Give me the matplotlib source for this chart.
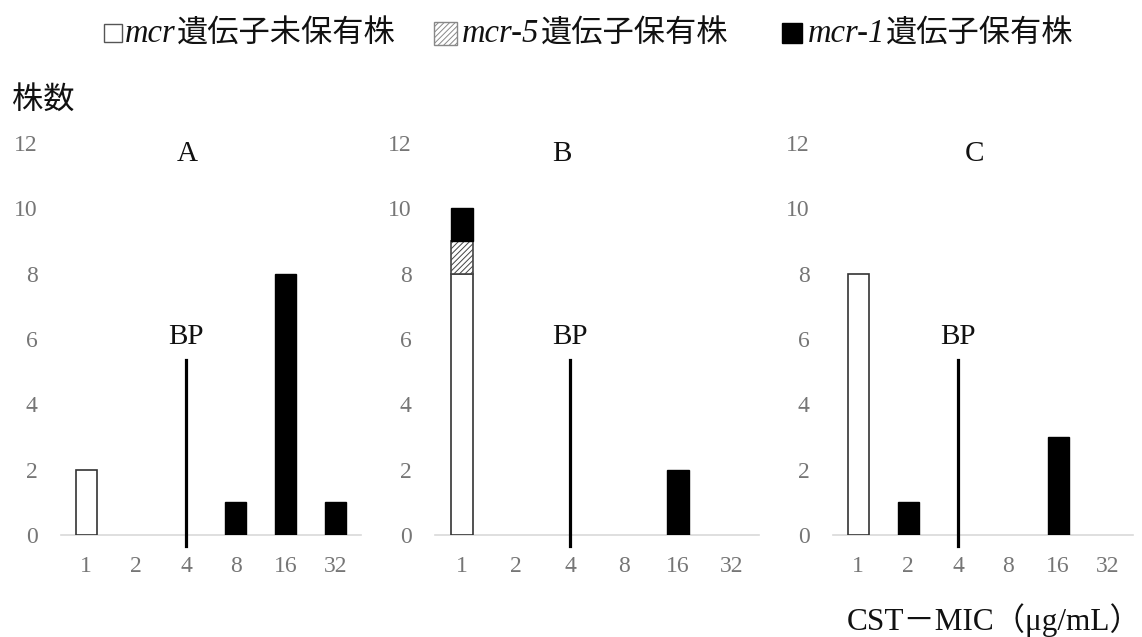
import matplotlib
matplotlib.use('Agg')
import matplotlib.pyplot as plt
import numpy as np
from matplotlib.patches import Rectangle
from matplotlib.transforms import Affine2D

# ---------------- data ----------------
categories = ['1', '2', '4', '8', '16', '32']
panel_titles = ['A', 'B', 'C']
a_none = [2, 0, 0, 0, 0, 0]
a_mcr5 = [0, 0, 0, 0, 0, 0]
a_mcr1 = [0, 0, 0, 1, 8, 1]
b_none = [8, 0, 0, 0, 0, 0]
b_mcr5 = [1, 0, 0, 0, 0, 0]
b_mcr1 = [1, 0, 0, 0, 2, 0]
c_none = [8, 0, 0, 0, 0, 0]
c_mcr5 = [0, 0, 0, 0, 0, 0]
c_mcr1 = [0, 1, 0, 0, 3, 0]
bp_category = '4'
bp_label = 'BP'
y_ticks = [0, 2, 4, 6, 8, 10, 12]
legend_gene = ['mcr', 'mcr-5', 'mcr-1']
legend_text = ['遺伝子未保有株', '遺伝子保有株', '遺伝子保有株']
y_label = '株数'
x_label = 'CST－MIC（μg/mL）'

SERIF = ['Liberation Serif', 'Noto Sans CJK JP']
CJK = ['Noto Sans CJK JP', 'Liberation Serif']
plt.rcParams['font.family'] = SERIF
plt.rcParams['hatch.linewidth'] = 0.7

W, H = 1142, 637
fig = plt.figure(figsize=(W / 100, H / 100), dpi=100)
px = Affine2D().scale(1, -1).translate(0, H)  # pixel coords from top-left

# axes placement in pixels: (left, width)
rects = [(61, 300), (435, 324), (833, 300)]
base_px, top_px = 535, 143
title_x = [187, 562, 975]
tick_color = '#767676'
ink = '#111111'

panels = [(a_none, a_mcr5, a_mcr1), (b_none, b_mcr5, b_mcr1), (c_none, c_mcr5, c_mcr1)]
x = np.arange(len(categories))
bw = 0.42

for i, ((none, m5, m1), (lp, wp)) in enumerate(zip(panels, rects)):
    ax = fig.add_axes([lp / W, 1 - base_px / H, wp / W, (base_px - top_px) / H])
    none = np.array(none, float); m5 = np.array(m5, float); m1 = np.array(m1, float)
    msk = none > 0
    ax.bar(x[msk], none[msk], width=bw, color='white', edgecolor='#333333', linewidth=1.2, zorder=3)
    msk = m5 > 0
    ax.bar(x[msk], m5[msk], bottom=none[msk], width=bw, color='white', edgecolor='#444444',
           hatch='//////', linewidth=1.2, zorder=3)
    msk = m1 > 0
    ax.bar(x[msk], m1[msk], bottom=(none + m5)[msk], width=bw, color='black', edgecolor='black',
           linewidth=1.0, zorder=3)
    bpx = categories.index(bp_category)
    ax.plot([bpx, bpx], [-0.33, 5.35], color='black', lw=2.3, clip_on=False, zorder=4)
    ax.text(bpx, 6.06, bp_label, ha='center', va='center', fontsize=21, color=ink)
    ax.set_xlim(-0.5, len(categories) - 0.5)
    ax.set_ylim(0, 12)
    ax.set_yticks(y_ticks)
    ax.set_xticks(x)
    ax.set_xticklabels(categories)
    for s in ['top', 'right', 'left']:
        ax.spines[s].set_visible(False)
    ax.spines['bottom'].set_color('#d9d9d9')
    ax.spines['bottom'].set_linewidth(1.2)
    ax.tick_params(axis='both', length=0, labelsize=17, labelcolor=tick_color)
    ax.tick_params(axis='y', pad=17)
    ax.tick_params(axis='x', pad=15)
    ax.patch.set_alpha(0)
    fig.text(title_x[i] / W, 1 - 154 / H, panel_titles[i], ha='center', va='center',
             fontsize=21, color=ink)

# y label
fig.text(12 / W, 1 - 100 / H, y_label, ha='left', va='center', fontsize=22.5,
         family=CJK, color=ink)
# x label
fig.text(1141 / W, 1 - 620 / H, x_label, ha='right', va='center', fontsize=22.5,
         family=SERIF, color=ink)

# legend (pixel layout)
sq = [(104, 24, 18), (434, 22, 23), (782, 23, 20)]      # x, y-top, size
gene_x = [125, 462, 808]
cjk_x = [177, 541, 886]
leg_y = 34
fills = [dict(facecolor='white', edgecolor='#555555', lw=1.0),
         dict(facecolor='white', edgecolor='#888888', lw=1.0, hatch='//////'),
         dict(facecolor='black', edgecolor='black', lw=1.0)]
for k in range(3):
    sx, sy, ss = sq[k]
    fig.add_artist(Rectangle((sx, sy + ss), ss, ss * -1, transform=px, **fills[k]))
    fig.text(gene_x[k] / W, 1 - leg_y / H, legend_gene[k], ha='left', va='center',
             fontsize=23.5, style='italic', family='Liberation Serif', color=ink)
    fig.text(cjk_x[k] / W, 1 - leg_y / H, legend_text[k], ha='left', va='center',
             fontsize=22.5, family=CJK, color=ink)

fig.savefig('out.png', dpi=100)
